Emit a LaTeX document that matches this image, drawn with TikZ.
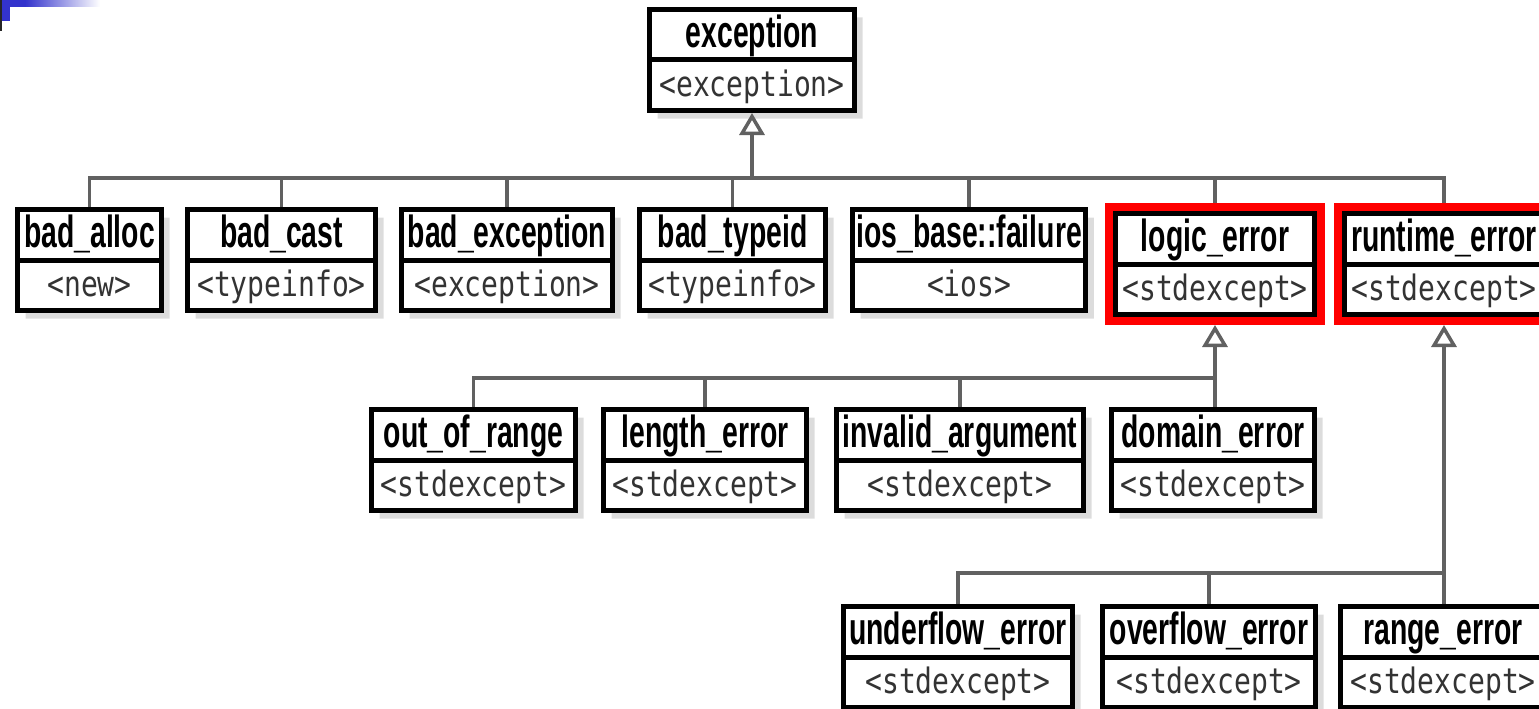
\documentclass[tikz,border=0pt]{standalone}
\usepackage{fontspec}
\newfontfamily\namefont[FakeStretch=0.63]{Liberation Sans}
\newfontfamily\hdrfont[FakeStretch=0.8]{DejaVu Sans Mono}
\usetikzlibrary{shapes.multipart,shadows,arrows.meta,calc}
\definecolor{slideblue}{RGB}{51,51,204}
% class name on top, header file below
\newcommand\clsname[1]{{\namefont\bfseries\fontsize{45}{45}\selectfont\rule[-10pt]{0pt}{45.5pt}#1}}
\newcommand\clshdr[1]{{\hdrfont\fontsize{35}{35}\selectfont\color{black!80}\rule[-12pt]{0pt}{45.5pt}#1}}

\begin{document}
\begin{tikzpicture}[x=1pt,y=-1pt]
\tikzstyle{cls} = [rectangle split, rectangle split parts=2, draw, line width=5pt, fill=white, anchor=north west, inner xsep=4pt, inner ysep=0pt, drop shadow={shadow xshift=8pt, shadow yshift=-8pt, fill=black!27}]
\tikzstyle{link} = [draw=black!62, line width=3.5pt]
\tikzstyle{inherit} = [link, {Triangle[open, width=25pt, length=22pt, fill=white]}-]
\tikzstyle{hot} = [draw=red, line width=8pt]
\useasboundingbox (0,0) rectangle (1539,709);
\clip (0,0) rectangle (1539,709);

% slide corner
\shade[left color=slideblue, right color=white] (25,0) rectangle (100,7);
\fill[slideblue] (0,0) rectangle (25,7);
\fill[slideblue] (0,0) rectangle (10,21);
\fill[black!85] (0,0) rectangle (1.5,31);

\coordinate (bus1) at (0,178);
\coordinate (bus2) at (0,378);
\coordinate (bus3) at (0,573);

% root
\node[cls, minimum width=205pt] (exception) at (647,7) {\clsname{exception}\nodepart{two}\clshdr{<exception>}};

% first level
\node[cls, minimum width=144pt] (badalloc) at (15,207) {\clsname{bad\_alloc}\nodepart{two}\clshdr{<new>}};
\node[cls, minimum width=188pt] (badcast) at (185,207) {\clsname{bad\_cast}\nodepart{two}\clshdr{<typeinfo>}};
\node[cls, minimum width=211pt] (badexc) at (399,207) {\clsname{bad\_exception}\nodepart{two}\clshdr{<exception>}};
\node[cls, minimum width=186pt] (badtypeid) at (637,207) {\clsname{bad\_typeid}\nodepart{two}\clshdr{<typeinfo>}};
\node[cls, minimum width=231pt] (iosfail) at (850,207) {\clsname{ios\_base::failure}\nodepart{two}\clshdr{<ios>}};
\node[cls, minimum width=199pt] (logicerr) at (1113,211) {\clsname{logic\_error}\nodepart{two}\clshdr{<stdexcept>}};
\node[cls, minimum width=199pt] (runtimeerr) at (1342,211) {\clsname{runtime\_error}\nodepart{two}\clshdr{<stdexcept>}};

% logic_error children
\node[cls, minimum width=204pt] (outofrange) at (369,407) {\clsname{out\_of\_range}\nodepart{two}\clshdr{<stdexcept>}};
\node[cls, minimum width=203pt] (lengtherr) at (601,407) {\clsname{length\_error}\nodepart{two}\clshdr{<stdexcept>}};
\node[cls, minimum width=247pt] (invalidarg) at (834,407) {\clsname{invalid\_argument}\nodepart{two}\clshdr{<stdexcept>}};
\node[cls, minimum width=203pt] (domainerr) at (1109,407) {\clsname{domain\_error}\nodepart{two}\clshdr{<stdexcept>}};

% runtime_error children
\node[cls, minimum width=229pt] (underflowerr) at (841,604) {\clsname{underflow\_error}\nodepart{two}\clshdr{<stdexcept>}};
\node[cls, minimum width=213pt] (overflowerr) at (1100,604) {\clsname{overflow\_error}\nodepart{two}\clshdr{<stdexcept>}};
\node[cls, minimum width=205pt] (rangeerr) at (1338,604) {\clsname{range\_error}\nodepart{two}\clshdr{<stdexcept>}};

% inheritance lines
\draw[inherit] (exception.south) -- (exception.south |- bus1);
\draw[link] (badalloc.north) |- (bus1 -| runtimeerr.north) -- (runtimeerr.north);
\foreach \n in {badcast,badexc,badtypeid,iosfail,logicerr}
  \draw[link] (\n.north) -- (\n.north |- bus1);

\draw[inherit, shorten <=8pt] (logicerr.south) -- (logicerr.south |- domainerr.north);
\draw[link] (outofrange.north) |- (logicerr.south |- bus2);
\draw[link] (lengtherr.north) -- (lengtherr.north |- bus2);
\draw[link] (invalidarg.north) -- (invalidarg.north |- bus2);

\draw[inherit, shorten <=8pt] (runtimeerr.south) -- (runtimeerr.south |- rangeerr.north);
\draw[link] (underflowerr.north) |- (runtimeerr.south |- bus3);
\draw[link] (overflowerr.north) -- (overflowerr.north |- bus3);

% highlighted classes
\draw[hot] ($(logicerr.north west)+(-4,-4)$) rectangle ($(logicerr.south east)+(4,4)$);
\draw[hot] ($(runtimeerr.north west)+(-4,-4)$) rectangle ($(runtimeerr.south east)+(4,4)$);
\end{tikzpicture}
\end{document}
